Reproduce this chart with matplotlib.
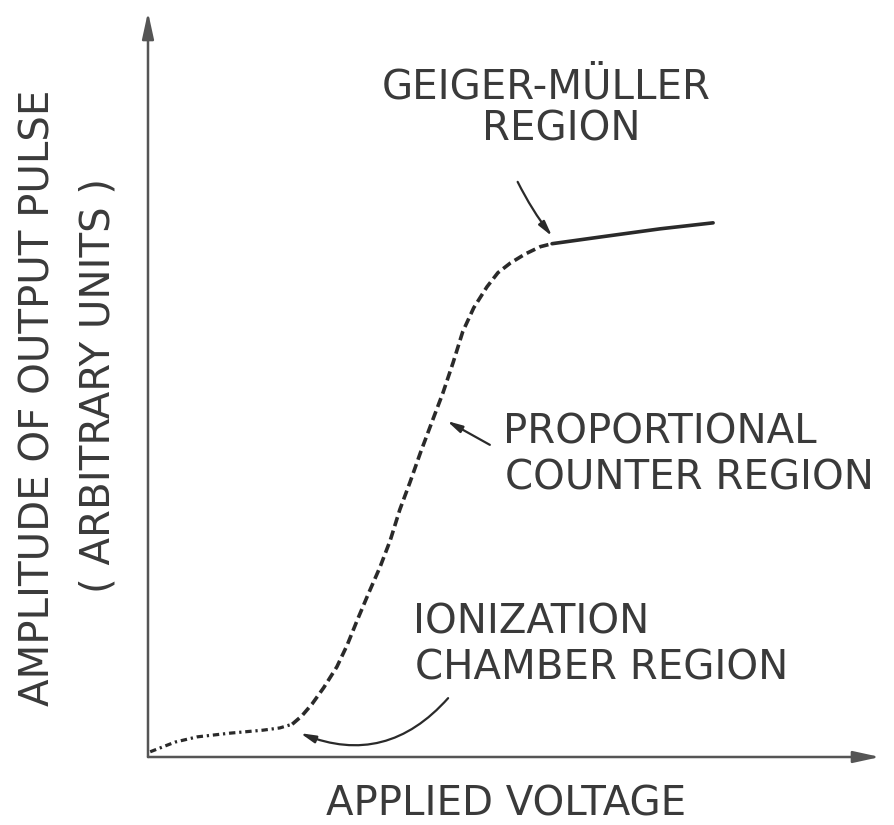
import numpy as np
import matplotlib
matplotlib.use("Agg")
import matplotlib.pyplot as plt

# curve of pulse amplitude vs applied voltage (arbitrary units, 0..100)
ion_v = [0.3, 3.7, 6.7, 11.2, 15.7, 18.0, 19.7]
ion_a = [0.7, 2.0, 2.7, 3.2, 3.6, 3.9, 4.4]

prop_v = [19.7, 21.0, 22.4, 24.0, 25.8, 27.2, 28.6, 30.1, 31.7, 33.1, 34.4, 35.8,
          37.2, 38.8, 40.3, 41.7, 43.0, 44.5, 46.3, 47.8, 49.5, 51.5, 53.6, 55.2]
prop_a = [4.4, 5.5, 7.1, 9.3, 12.1, 15.0, 18.4, 21.9, 25.5, 29.1, 33.2, 36.9,
          40.8, 45.0, 48.9, 53.0, 57.1, 60.3, 63.1, 65.0, 66.3, 67.5, 68.5, 68.9]

gm_v = [55.2, 61.8, 70.0, 77.2]
gm_a = [68.9, 69.8, 70.9, 71.7]

ink = "#2a2a2a"
txt = "#3a3a3a"

fig = plt.figure(figsize=(8.94, 8.25), dpi=100)
ax = fig.add_axes([148/894, 68/825, 732/894, 745/825])
ax.set_xlim(0, 100)
ax.set_ylim(0, 100)
ax.axis("off")

# axes with arrows
ax.annotate("", xy=(0, 1.0), xytext=(0, 0), xycoords="axes fraction",
            arrowprops=dict(arrowstyle="-|>,head_length=1.6,head_width=0.35",
                            color="#555555", lw=1.8, shrinkA=0, shrinkB=0))
ax.annotate("", xy=(1.0, 0), xytext=(0, 0), xycoords="axes fraction",
            arrowprops=dict(arrowstyle="-|>,head_length=1.6,head_width=0.35",
                            color="#555555", lw=1.8, shrinkA=0, shrinkB=0))

# the curve
ax.plot(ion_v, ion_a, color=ink, lw=2.3, dashes=(2, 1.2, 0.7, 1.2), clip_on=False)
ax.plot(prop_v, prop_a, color=ink, lw=2.6, dashes=(2.6, 1.3), clip_on=False)
ax.plot(gm_v, gm_a, color=ink, lw=2.6, solid_capstyle="round", clip_on=False)

arrow = dict(arrowstyle="-|>,head_length=0.9,head_width=0.22", color=ink, lw=1.6,
             shrinkA=0, shrinkB=0)

# labels
fs = 29
ax.text(54.4, 89.8, "GEIGER-MÜLLER", fontsize=fs, color=txt, ha="center", va="center")
ax.text(56.4, 84.2, "REGION", fontsize=fs, color=txt, ha="center", va="center")
ax.annotate("", xy=(55.2, 69.9), xytext=(50.5, 77.2),
            arrowprops=dict(arrow, connectionstyle="arc3,rad=0.05"))

ax.text(48.5, 43.5, "PROPORTIONAL", fontsize=fs, color=txt, ha="left", va="center")
ax.text(48.8, 37.4, "COUNTER REGION", fontsize=fs, color=txt, ha="left", va="center",
        clip_on=False)
ax.annotate("", xy=(40.85, 45.1), xytext=(46.7, 41.9), arrowprops=arrow)

ax.text(36.2, 18.1, "IONIZATION", fontsize=fs, color=txt, ha="left", va="center")
ax.text(36.5, 11.9, "CHAMBER REGION", fontsize=fs, color=txt, ha="left", va="center")
ax.annotate("", xy=(20.8, 3.2), xytext=(41.0, 7.9),
            arrowprops=dict(arrow, connectionstyle="arc3,rad=-0.35"))

ax.text(48.9, -6.4, "APPLIED VOLTAGE", fontsize=fs, color=txt, ha="center", va="center")
ax.text(-15.0, 48.2, "AMPLITUDE OF OUTPUT PULSE", fontsize=fs, color=txt,
        ha="center", va="center", rotation=90)
ax.text(-6.8, 49.9, "( ARBITRARY UNITS )", fontsize=fs, color=txt,
        ha="center", va="center", rotation=90)

fig.savefig("out.png", dpi=100)
